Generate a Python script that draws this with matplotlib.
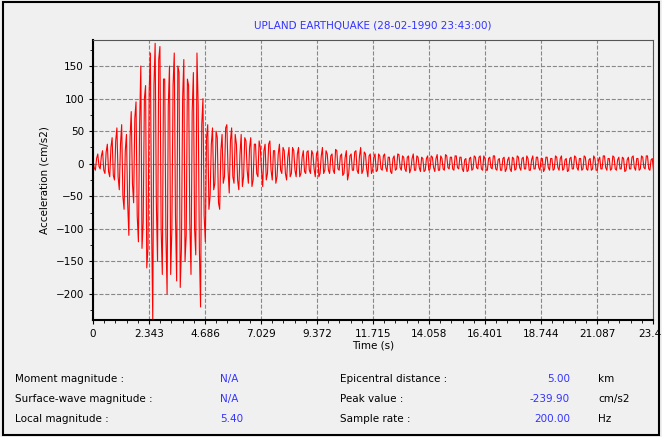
import numpy as np
import matplotlib.pyplot as plt

# Peak readings off the record, one every 0.1 s
accel = [
    5, -10, 15, -8, 20, -15, 30, -20, 40, -25,
    55, -40, 60, -70, 45, -110, 80, -60, 95, -120,
    150, -90, 120, -130, 170, -240, 185, -150, 180, -170,
    130, -200, 150, -100, 170, -180, 140, -130, 160, -110,
    120, -170, 140, -140, 90, -220, 100, -120, 60, -50,
    55, -30, 40, -70, 45, -20, 60, -45, 55, -30,
    30, -40, 45, -20, 35, -30, 40, -25, 30, -20,
    25, -35, 30, -15, 35, -25, 20, -20, 30, -15,
    20, -25, 25, -15, 20, -20, 25, -15, 20, -15,
    20, -15, 15, -20, 20, -15, 25, -10, 15, -15,
    15, -15, 20, -10, 15, -15, 20, -15, 15, -10,
    20, -15, 25, -10, 15, -20, 15, -10, 15, -10,
    12, -10, 15, -12, 10, -15, 12, -8, 14, -10,
    10, -12, 12, -8, 15, -10, 10, -12, 8, -10,
    12, -8, 10, -12, 14, -10, 8, -10, 12, -8,
    10, -10, 12, -8, 10, -12, 8, -10, 10, -8,
    10, -8, 12, -10, 8, -10, 10, -8, 12, -10,
    8, -10, 10, -8, 10, -12, 8, -8, 10, -10,
    10, -8, 8, -10, 12, -8, 10, -10, 8, -8,
    10, -10, 8, -8, 10, -10, 12, -8, 8, -10,
    10, -8, 10, -10, 8, -8, 10, -10, 8, -8,
    8, -10, 10, -8, 12, -10, 8, -8, 10, -10,
    10, -8, 8, -10, 10, -8, 12, -10, 8, -8,
    10, -8, 12, -10, 8,
]
# Readings between those peaks (at t + 0.05 s)
accel_mid = [
    -6, 8, -4, 12, -10, 18, -12, 25, -18, 35,
    -20, 30, -50, 20, -60, 40, -30, 70, -80, 60,
    -130, 100, -160, 110, -90, 120, -60, 160, -100, 130,
    -110, 90, -170, 120, -80, 150, -190, 100, -150, 130,
    -90, 80, -100, 170, -130, 60, -80, 40, -70, 30,
    -40, 50, -60, 20, -30, 55, -10, 35, -20, 45,
    -25, 15, -35, 40, -10, 25, -35, 30, -15, 35,
    -10, 20, -25, 30, -10, 20, -30, 15, -10, 25,
    -15, 10, -20, 25, -10, 15, -20, 10, -12, 18,
    -10, 20, -8, 15, -20, 12, -15, 20, -10, 12,
    -10, 22, -8, 12, -18, 10, -25, 12, -10, 18,
    -10, 12, -15, 18, -8, 12, -15, 10, -12, 15,
    -8, 12, -6, 10, -12, 8, -10, 15, -6, 12,
    -8, 10, -14, 8, -10, 12, -6, 10, -12, 8,
    -10, 12, -6, 8, -10, 12, -8, 14, -6, 10,
    -8, 12, -6, 10, -8, 6, -12, 8, -10, 12,
    -6, 10, -8, 12, -10, 8, -6, 12, -8, 6,
    -10, 8, -12, 6, -8, 10, -10, 12, -6, 8,
    -8, 12, -10, 6, -8, 10, -6, 8, -12, 10,
    -6, 8, -10, 12, -6, 8, -10, 6, -12, 8,
    -8, 12, -6, 8, -10, 12, -8, 6, -10, 12,
    -10, 6, -8, 12, -6, 8, -10, 12, -8, 6,
    -8, 10, -12, 6, -8, 10, -6, 8, -10, 12,
    -6, 12, -8, 6, -10,
]
time = np.arange(len(accel)) * 0.1
t_all = np.concatenate([time, time + 0.05])
a_all = np.concatenate([accel, accel_mid])
order = np.argsort(t_all)
t_all, a_all = t_all[order], a_all[order]

xticks = [0, 2.343, 4.686, 7.029, 9.372, 11.715, 14.058, 16.401, 18.744, 21.087, 23.43]
xticklabels = ["0", "2.343", "4.686", "7.029", "9.372", "11.715", "14.058",
               "16.401", "18.744", "21.087", "23.43"]

info_left = [("Moment magnitude :", "N/A"), ("Surface-wave magnitude :", "N/A"),
             ("Local magnitude :", "5.40")]
info_right = [("Epicentral distance :", "5.00", "km"), ("Peak value :", "-239.90", "cm/s2"),
              ("Sample rate :", "200.00", "Hz")]

bg = "#f0f0f0"
blue = "#3333ff"
fig = plt.figure(figsize=(6.62, 4.37), dpi=100, facecolor=bg)
ax = fig.add_axes([93 / 662, 1 - 320 / 437, 560 / 662, 280 / 437], facecolor=bg)
ax.plot(t_all, a_all, color="red", lw=0.8)
ax.set_xlim(0, 23.43)
ax.set_ylim(-240, 190)
ax.set_xticks(xticks)
ax.set_xticklabels(xticklabels, fontsize=7.5)
ax.set_xticks(np.arange(0, 23.43, 2.343 / 5), minor=True)
ax.set_yticks(range(-200, 151, 50))
ax.set_yticks(range(-225, 190, 25), minor=True)
ax.tick_params(labelsize=7.5, direction="out", length=3)
ax.tick_params(which="minor", length=2)
ax.grid(True, ls="--", color="#888888", lw=0.8)
for s in ["top", "right"]:
    ax.spines[s].set_color("#555555")
    ax.spines[s].set_linewidth(0.8)
for s in ["left", "bottom"]:
    ax.spines[s].set_linewidth(1.5)
ax.set_xlabel("Time (s)", fontsize=7.5, labelpad=1)
ax.set_ylabel("Acceleration (cm/s2)", fontsize=7.5)
ax.set_title("UPLAND EARTHQUAKE (28-02-1990 23:43:00)", fontsize=7.5, color=blue, pad=8)

for i, (lab, val) in enumerate(info_left):
    y = 1 - (379 + 20 * i) / 437
    fig.text(15 / 662, y, lab, fontsize=7.5, va="center")
    fig.text(220 / 662, y, val, fontsize=7.5, va="center", color=blue)
for i, (lab, val, unit) in enumerate(info_right):
    y = 1 - (379 + 20 * i) / 437
    fig.text(340 / 662, y, lab, fontsize=7.5, va="center")
    fig.text(570 / 662, y, val, fontsize=7.5, va="center", ha="right", color=blue)
    fig.text(598 / 662, y, unit, fontsize=7.5, va="center")

fig.patches.append(plt.Rectangle((0.004, 0.004), 0.992, 0.992, transform=fig.transFigure,
                                 fill=False, ec="black", lw=1.5))
fig.savefig("out.png", dpi=100, facecolor=bg)
